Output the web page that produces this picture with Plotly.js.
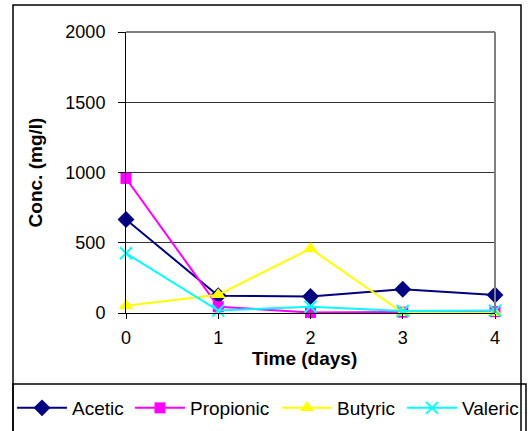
<!DOCTYPE html>
<html><head><meta charset="utf-8">
<script src="https://cdn.plot.ly/plotly-3.0.1.min.js"></script>
<style>html,body{margin:0;padding:0;background:#fff}#chart{width:528px;height:431px}</style>
</head><body><div id="chart"></div>
<script>
const days = [0, 1, 2, 3, 4];
const seriesNames = ['Acetic', 'Propionic', 'Butyric', 'Valeric'];
const acetic = [665, 123, 117, 169, 128];
const propionic = [958, 45, 3, 6, 10];
const butyric = [52, 130, 458, 2, 2];
const valeric = [425, 17, 45, 14, 17];
const xTicks = [0, 1, 2, 3, 4];
const yTicks = [0, 500, 1000, 1500, 2000];

const L = 126, R = 495, T = 32, B = 313, W = 528, H = 431;
const px = v => (v - L) / (R - L);
const py = v => (B - v) / (B - T);

const font = "Arial, 'Liberation Sans', sans-serif";
const legendIds = ['legend', 'legend2', 'legend3', 'legend4'];
const legendX = [12, 130, 277, 402];
function tr(i, y, color, symbol, size) {
  return {x: days, y: y, name: seriesNames[i], legend: legendIds[i], type: 'scatter', mode: 'lines+markers',
    line: {color: color, width: 2},
    marker: {symbol: symbol, size: size, color: color, line: {color: color, width: symbol.indexOf('open') >= 0 ? 2 : 0}},
    cliponaxis: false};
}
const data = [
  tr(0, acetic, '#000080', 'diamond', 13),
  tr(1, propionic, '#FF00FF', 'square', 11),
  tr(2, butyric, '#FFFF00', 'triangle-up', 13),
  tr(3, valeric, '#00FFFF', 'x-thin-open', 12)
];
const layout = {
  width: W, height: H,
  margin: {l: L, r: W - R, t: T, b: H - B, autoexpand: false},
  paper_bgcolor: '#fff', plot_bgcolor: '#fff',
  font: {family: font, size: 18, color: '#000'},
  showlegend: true,
  xaxis: {range: [0, 4], tickvals: xTicks, ticktext: xTicks.map(String), automargin: false,
    showgrid: false, zeroline: false, showline: true, linecolor: '#000', linewidth: 1,
    ticks: 'outside', ticklen: 5, tickcolor: '#000', ticklabelstandoff: 3,
    tickfont: {family: font, size: 18}},
  yaxis: {range: [0, 2000], tickvals: yTicks, ticktext: yTicks.map(String), automargin: false,
    showgrid: true, gridcolor: '#333', gridwidth: 1, zeroline: false,
    showline: true, linecolor: '#000', linewidth: 1,
    ticks: 'outside', ticklen: 7, tickcolor: '#000', ticklabelstandoff: 9,
    tickfont: {family: font, size: 18},
    title: {text: '<b>Conc. (mg/l)</b>', font: {family: font, size: 19}, standoff: 17}},
  annotations: [
    {text: '<b>Time (days)</b>', xref: 'paper', yref: 'paper', x: px(304), y: py(358),
     xanchor: 'center', yanchor: 'middle', showarrow: false, font: {family: font, size: 19, color: '#000'}}
  ],
  shapes: [
    {type: 'line', xref: 'paper', yref: 'paper', x0: 0, x1: 1, y0: 1, y1: 1, line: {color: '#808080', width: 2}},
    {type: 'line', xref: 'paper', yref: 'paper', x0: 1, x1: 1, y0: 0, y1: 1, line: {color: '#808080', width: 2}},
    {type: 'rect', xref: 'paper', yref: 'paper', x0: px(13), x1: px(521), y0: py(445), y1: py(5), line: {color: '#000', width: 1.5}},
    {type: 'rect', xref: 'paper', yref: 'paper', x0: px(13), x1: px(526), y0: py(445), y1: py(384), line: {color: '#000', width: 1.5}}
  ]
};
legendIds.forEach((id, i) => {
  layout[id] = {orientation: 'h', xref: 'container', yref: 'container',
    x: legendX[i] / W, y: 1 - 389 / H, xanchor: 'left', yanchor: 'top',
    font: {family: font, size: 19, color: '#000'}, itemwidth: 50,
    bgcolor: 'rgba(0,0,0,0)', borderwidth: 0};
});
Plotly.newPlot('chart', data, layout, {displayModeBar: false, staticPlot: true});
</script></body></html>
